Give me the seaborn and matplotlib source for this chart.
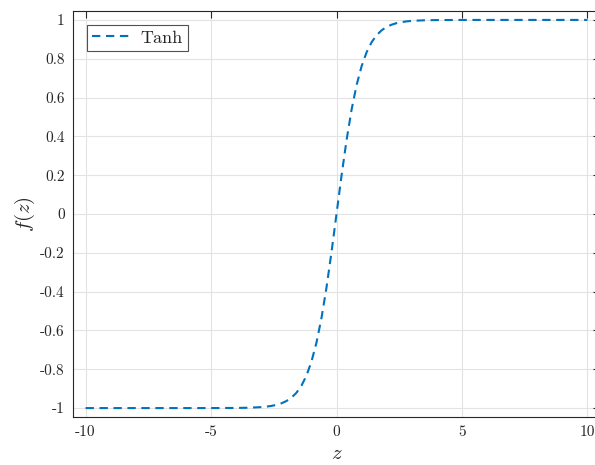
import matplotlib
matplotlib.use("Agg")
import matplotlib.pyplot as plt
import seaborn as sns
import pandas as pd

# data
z_vals = [-10, -9, -8, -7, -6, -5, -4, -3.5,
          -3.0, -2.8, -2.6, -2.4, -2.2, -2.0, -1.8, -1.6, -1.4, -1.2, -1.0,
          -0.8, -0.6, -0.4, -0.2, 0.0, 0.2, 0.4, 0.6, 0.8,
          1.0, 1.2, 1.4, 1.6, 1.8, 2.0, 2.2, 2.4, 2.6, 2.8, 3.0,
          3.5, 4, 5, 6, 7, 8, 9, 10]
f_vals = [-1.0, -1.0, -1.0, -1.0, -1.0, -0.9999, -0.9993, -0.9982,
          -0.9951, -0.9926, -0.9890, -0.9837, -0.9757, -0.9640, -0.9468, -0.9217, -0.8854, -0.8337, -0.7616,
          -0.6640, -0.5370, -0.3799, -0.1974, 0.0, 0.1974, 0.3799, 0.5370, 0.6640,
          0.7616, 0.8337, 0.8854, 0.9217, 0.9468, 0.9640, 0.9757, 0.9837, 0.9890, 0.9926, 0.9951,
          0.9982, 0.9993, 0.9999, 1.0, 1.0, 1.0, 1.0, 1.0]
series_name = "Tanh"
x_ticks = [-10, -5, 0, 5, 10]
x_tick_labels = ["-10", "-5", "0", "5", "10"]
y_ticks = [-1, -0.8, -0.6, -0.4, -0.2, 0, 0.2, 0.4, 0.6, 0.8, 1]
y_tick_labels = ["-1", "-0.8", "-0.6", "-0.4", "-0.2", "0", "0.2", "0.4", "0.6", "0.8", "1"]

df = pd.DataFrame({"z": z_vals, "f": f_vals})

sns.set_style("white")
plt.rcParams["mathtext.fontset"] = "cm"
plt.rcParams["font.family"] = ["cmr10", "DejaVu Serif"]
plt.rcParams["axes.unicode_minus"] = False

W, H = 595, 465
fig = plt.figure(figsize=(W / 100, H / 100), dpi=100)
left, top, bottom = 73, 11, 417
width = 600 - left
ax = fig.add_axes([left / W, 1 - bottom / H, width / W, (bottom - top) / H])

blue = "#0072BD"
sns.lineplot(data=df, x="z", y="f", ax=ax, color=blue, linewidth=1.5,
             label=series_name, sort=False, estimator=None)
ax.lines[0].set_dashes([4, 2.7])

ax.set_xlim(-10.5, 10.5)
ax.set_ylim(-1.046, 1.046)
ax.set_xticks(x_ticks)
ax.set_xticklabels(x_tick_labels)
ax.set_yticks(y_ticks)
ax.set_yticklabels(y_tick_labels)

axcol = "#262626"
for s in ax.spines.values():
    s.set_color(axcol)
    s.set_linewidth(0.8)
ax.tick_params(direction="in", length=5, width=0.8, color=axcol, labelcolor=axcol,
               labelsize=11, top=True, right=True, pad=6)
for lab in ax.get_xticklabels() + ax.get_yticklabels():
    lab.set_fontfamily(["cmr10", "DejaVu Serif"])

ax.grid(True, color="#E3E3E3", linewidth=0.8)
ax.set_axisbelow(True)

ax.set_xlabel("$z$", fontsize=15, color=axcol, labelpad=4)
ax.set_ylabel("$f(z)$", fontsize=15, color=axcol, labelpad=2)

leg = ax.legend(loc="upper left", fancybox=False, frameon=True,
                borderpad=0.3, handlelength=2.3, handletextpad=0.4,
                borderaxespad=0.75, prop={"family": ["cmr10", "DejaVu Serif"], "size": 13})
leg.get_frame().set_edgecolor("#262626")
leg.get_frame().set_linewidth(0.8)

fig.savefig("out.png", dpi=100)
